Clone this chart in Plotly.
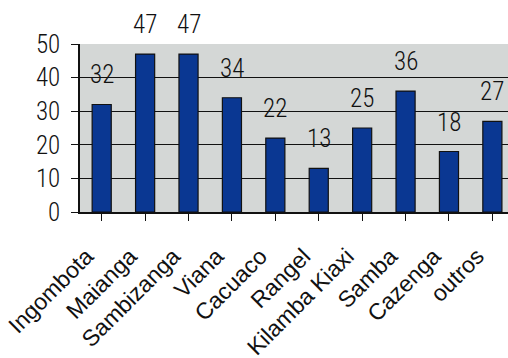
import plotly.graph_objects as go

categories = ["Ingombota", "Maianga", "Sambizanga", "Viana", "Cacuaco", "Rangel",
              "Kilamba Kiaxi", "Samba", "Cazenga", "outros"]
values = [32, 47, 47, 34, 22, 13, 25, 36, 18, 27]
y_ticks = [0, 10, 20, 30, 40, 50]

FONT = "Roboto Condensed, Liberation Sans, Arial, sans-serif"
XFONT = "Liberation Sans, Arial, sans-serif"

fig = go.Figure()
fig.add_trace(go.Bar(
    x=list(range(len(categories))), y=values, width=0.44,
    marker=dict(color="#0a3792", line=dict(color="#111111", width=1.2)),
    showlegend=False,
))

for i, v in enumerate(values):
    fig.add_annotation(x=i, y=v, text=str(v), showarrow=False, yanchor="bottom",
                       yshift=13, font=dict(family=FONT, size=25, color="#111111", weight=300))

fig.update_layout(
    width=508, height=358,
    margin=dict(l=80, r=0, t=44, b=146, autoexpand=False),
    paper_bgcolor="white", plot_bgcolor="#d4d7d6",
)
fig.update_xaxes(
    tickmode="array", tickvals=list(range(len(categories))), ticktext=categories,
    range=[-0.5, 9.36], tickangle=-45, ticks="outside", tickson="boundaries",
    ticklen=7, tickcolor="#111111", showline=True, linecolor="#111111", linewidth=1.5,
    ticklabelstandoff=13, ticklabelshift=-15, automargin=False,
    tickfont=dict(family=XFONT, size=23, color="#111111"), showgrid=False,
)
fig.update_yaxes(
    range=[0, 50], tickvals=y_ticks, ticks="outside", ticklen=7, tickcolor="#111111",
    showline=True, linecolor="#111111", linewidth=1.5, showgrid=True,
    gridcolor="#111111", gridwidth=1.2, zeroline=False, ticklabelstandoff=6,
    automargin=False,
    tickfont=dict(family=FONT, size=25, color="#111111", weight=300),
)
fig.write_html("out.html")
